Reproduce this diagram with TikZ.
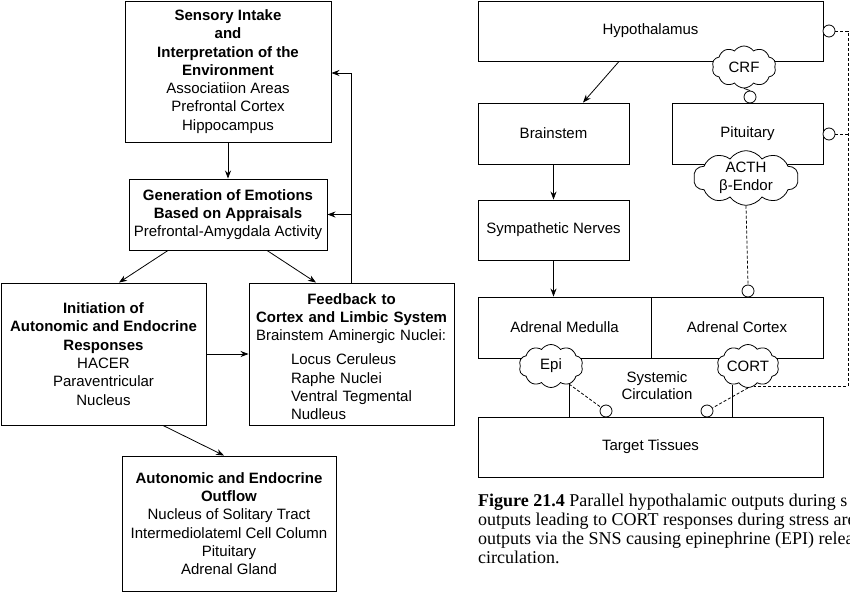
\documentclass[tikz,border=0pt]{standalone}
\usepackage{fontspec}
\setmainfont{Liberation Sans}
\newfontfamily\capfont{Liberation Serif}
\usetikzlibrary{shapes.symbols,arrows.meta,calc}
\begin{document}
\begin{tikzpicture}[x=1pt,y=-1pt,
  every node/.style={font=\fontsize{15}{18.3}\selectfont},
  box/.style={draw, line width=0.9pt, inner sep=0pt, align=center, anchor=center},
  arr/.style={-{Stealth[length=8pt,width=6pt]}, line width=0.8pt},
  ln/.style={line width=0.8pt},
  dsh/.style={line width=0.8pt, dash pattern=on 3pt off 2pt},
  puff/.style={cloud, cloud puffs=10, cloud puff arc=110, cloud ignores aspect, draw, fill=white, line width=0.8pt, inner sep=0pt, align=center},
  dot/.style={circle, draw, fill=white, minimum size=12pt, inner sep=0pt, line width=0.8pt},
  captxt/.style={anchor=base west, inner sep=0pt, font=\capfont\fontsize{18}{19}\selectfont}]
\useasboundingbox (0,0) rectangle (850,596);
\fill[white] (0,0) rectangle (850,596);

% ---------- left diagram ----------
\node[box, minimum width=206pt, minimum height=141pt] (sens) at (228,71.5)
  {\textbf{Sensory Intake}\\\textbf{and}\\\textbf{Interpretation of the}\\\textbf{Environment}\\Associatiion Areas\\Prefrontal Cortex\\Hippocampus};
\node[box, minimum width=198pt, minimum height=71pt] (gen) at (228,214.5)
  {\textbf{Generation of Emotions}\\\textbf{Based on Appraisals}\\Prefrontal-Amygdala Activity};
\node[box, minimum width=205pt, minimum height=142pt] (init) at (103.5,354)
  {\textbf{Initiation of}\\\textbf{Autonomic and Endocrine}\\\textbf{Responses}\\HACER\\Paraventricular\\Nucleus};
\node[box, minimum width=205pt, minimum height=142pt] (fb) at (351.5,354) {};
\node[inner sep=0pt, text width=191pt, anchor=center] (fbtxt) at (351.5,356.5)
  {{\centering\bfseries Feedback to\\Cortex and Limbic System\par}
   Brainstem Aminergic Nuclei:\par\vspace{5.7pt}
   \hspace*{35pt}Locus Ceruleus\\
   \hspace*{35pt}Raphe Nuclei\\
   \hspace*{35pt}Ventral Tegmental\\
   \hspace*{35pt}Nudleus};
\node[box, minimum width=214pt, minimum height=135pt] (out) at (229,523.5)
  {\textbf{Autonomic and Endocrine}\\\textbf{Outflow}\\Nucleus of Solitary Tract\\Intermediolateml Cell Column\\Pituitary\\Adrenal Gland};

\draw[arr] (sens.south) -- (gen.north);
\draw[arr] ($(gen.south)+(-60,0)$) -- ($(init.north)+(15.5,0)$);
\draw[arr] ($(gen.south)+(39,0)$) -- ($(fb.north)+(-35.5,0)$);
\draw[arr] (fb.north) |- ($(sens.east)+(0,1.5)$);
\draw[arr] (fb.north) |- (gen.east);
\draw[arr] (init.east) -- (fb.west);
\draw[arr] ($(init.south)+(59.5,0)$) -- ($(out.north)+(-5,0)$);

% ---------- right diagram ----------
\node[box, minimum width=345pt, minimum height=60pt] (hyp) at (650.5,31) {Hypothalamus};
\node[box, minimum width=151pt, minimum height=61pt] (brain) at (553.5,133.5) {Brainstem};
\node[box, minimum width=151pt, minimum height=61pt] (pit) at (747.5,133.5) {Pituitary};
\node[box, minimum width=151pt, minimum height=60pt] (symp) at (553.5,230) {Sympathetic Nerves};
\node[box, minimum width=173pt, minimum height=61pt] (med) at (564.5,327.5) {Adrenal Medulla};
\node[box, minimum width=172pt, minimum height=61pt] (cor) at (737,327.5) {Adrenal Cortex};
\node[box, minimum width=345pt, minimum height=60pt] (tt) at (650.5,447) {Target Tissues};
\node[inner sep=0pt, align=center, font=\fontsize{15}{17}\selectfont] (sys) at (657,385.5) {Systemic\\Circulation};

\coordinate (rtx) at (848,0);
\node[dot] (c1) at (750,97) {};
\node[dot] (c2) at (748,291) {};
\node[dot] (hypdot) at (829,31) {};
\node[dot] (pitdot) at (829,134) {};
\node[dot] (epidot) at (606,411) {};
\node[dot] (cortdot) at (707,411) {};

\node[puff, minimum width=64pt, minimum height=42pt] (crf) at (744,67) {CRF};
\node[puff, minimum width=105pt, minimum height=50pt, font=\fontsize{15}{18}\selectfont] (acth) at (746,178) {ACTH\\β-Endor};
\node[puff, minimum width=64pt, minimum height=43pt] (epi) at (551,366) {Epi};
\node[puff, minimum width=62pt, minimum height=43pt] (cort) at (748,366) {CORT};

\draw[arr] ($(hyp.south)+(-31.5,0)$) -- ($(brain.north)+(29.5,0)$);
\draw[arr] (brain.south) -- (symp.north);
\draw[arr] (symp.south) -- (symp.south |- med.north);

\draw[ln] (crf.south) -- (c1.north);
\draw[dsh] (acth.south) -- (c2.north);
\draw[dsh] (hypdot.east) -- (hypdot.east -| rtx) -- (rtx |- cort.-75) -- (cort.-75);
\draw[dsh] (pitdot.east) -- (pitdot.east -| rtx);
\draw[ln] (epi.-45) -- (epi.-45 |- tt.north);
\draw[ln] (cort.-130) -- (cort.-130 |- tt.north);
\draw[dsh] (epi.-45) -- (epidot);
\draw[dsh] (cort.south) -- (cortdot);

% ---------- caption ----------
\node[captxt] (cap1) at (478,506) {\textbf{Figure 21.4} Parallel hypothalamic outputs during s};
\node[captxt] (cap2) at (478,525) {outputs leading to CORT responses during stress are};
\node[captxt] (cap3) at (478,544) {outputs via the SNS causing epinephrine (EPI) relea};
\node[captxt] (cap4) at (478,563) {circulation.};
\end{tikzpicture}
\end{document}
